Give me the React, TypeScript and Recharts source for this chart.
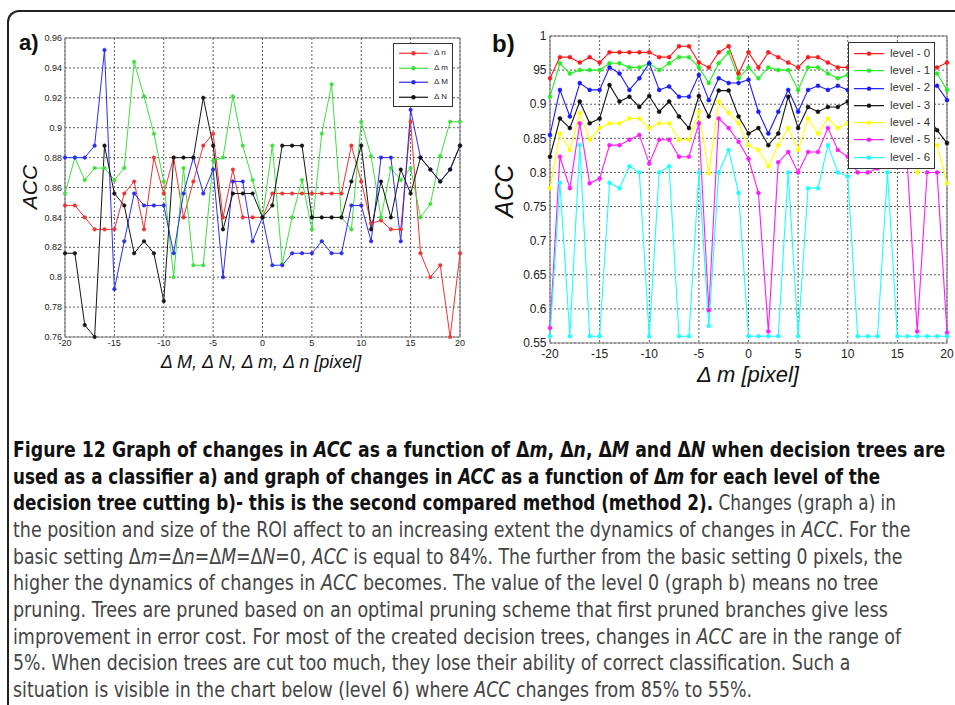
import React, { useLayoutEffect, useRef, useState } from "react";
import { Legend, Line, LineChart, CartesianGrid, ReferenceArea, XAxis, YAxis } from "recharts";

// shift in pixels, shared by both panels
const shifts = [
  -20, -19, -18, -17, -16, -15, -14, -13, -12, -11, -10, -9, -8, -7, -6, -5, -4, -3, -2, -1, 0,
  1, 2, 3, 4, 5, 6, 7, 8, 9, 10, 11, 12, 13, 14, 15, 16, 17, 18, 19, 20,
];

// panel a)
const accDn = [
  0.848, 0.848, 0.84, 0.832, 0.832, 0.832, 0.856, 0.864, 0.832, 0.88, 0.856, 0.88, 0.84, 0.864, 0.888, 0.896, 0.84, 0.872, 0.84, 0.84,
  0.84,
  0.856, 0.856, 0.856, 0.856, 0.856, 0.856, 0.856, 0.856, 0.888, 0.864, 0.836, 0.838, 0.832, 0.832, 0.904, 0.816, 0.8, 0.808, 0.76, 0.816,
];
const accDm = [
  0.856, 0.88, 0.865, 0.873, 0.873, 0.865, 0.873, 0.944, 0.921, 0.896, 0.864, 0.8, 0.873, 0.808, 0.808, 0.878, 0.88, 0.921, 0.888, 0.865,
  0.84,
  0.888, 0.809, 0.84, 0.865, 0.832, 0.896, 0.929, 0.84, 0.832, 0.904, 0.881, 0.84, 0.873, 0.865, 0.873, 0.84, 0.849, 0.881, 0.904, 0.904,
];
const accDM = [
  0.88, 0.88, 0.88, 0.888, 0.952, 0.792, 0.824, 0.856, 0.848, 0.848, 0.848, 0.816, 0.856, 0.88, 0.856, 0.872, 0.8, 0.864, 0.864, 0.824,
  0.84,
  0.808, 0.808, 0.816, 0.816, 0.816, 0.824, 0.816, 0.816, 0.848, 0.848, 0.824, 0.88, 0.88, 0.824, 0.912, 0.88, 0.872, 0.864, 0.872, 0.888,
];
const accDN = [
  0.816, 0.816, 0.768, 0.76, 0.888, 0.856, 0.848, 0.816, 0.824, 0.816, 0.784, 0.88, 0.88, 0.88, 0.92, 0.888, 0.832, 0.856, 0.856, 0.856,
  0.84,
  0.848, 0.888, 0.888, 0.888, 0.84, 0.84, 0.84, 0.84, 0.864, 0.888, 0.832, 0.864, 0.84, 0.872, 0.856, 0.88, 0.872, 0.864, 0.872, 0.888,
];

// panel b)
const level0 = [
  0.938, 0.969, 0.969, 0.961, 0.969, 0.961, 0.976, 0.976, 0.976, 0.976, 0.976, 0.969, 0.969, 0.985, 0.985, 0.961, 0.954, 0.976, 0.985, 0.945,
  0.976,
  0.954, 0.976, 0.969, 0.961, 0.954, 0.969, 0.969, 0.961, 0.954, 0.954, 0.961, 0.954, 0.969, 0.961, 0.954, 0.961, 0.969, 0.961, 0.954, 0.961,
];
const level1 = [
  0.911, 0.96, 0.945, 0.95, 0.95, 0.95, 0.96, 0.96, 0.954, 0.954, 0.96, 0.95, 0.96, 0.969, 0.969, 0.954, 0.931, 0.96, 0.976, 0.938,
  0.954,
  0.938, 0.954, 0.95, 0.95, 0.921, 0.954, 0.954, 0.945, 0.938, 0.943, 0.95, 0.938, 0.945, 0.95, 0.938, 0.945, 0.95, 0.938, 0.945, 0.921,
];
const level2 = [
  0.855, 0.921, 0.882, 0.931, 0.921, 0.921, 0.954, 0.945, 0.921, 0.938, 0.96, 0.921, 0.926, 0.911, 0.911, 0.943, 0.906, 0.938, 0.931, 0.931,
  0.936,
  0.889, 0.857, 0.889, 0.921, 0.889, 0.921, 0.927, 0.921, 0.927, 0.921, 0.911, 0.927, 0.921, 0.906, 0.927, 0.921, 0.911, 0.921, 0.927, 0.906,
];
const level3 = [
  0.823, 0.879, 0.865, 0.904, 0.872, 0.879, 0.928, 0.904, 0.911, 0.896, 0.912, 0.889, 0.904, 0.882, 0.865, 0.912, 0.882, 0.92, 0.92, 0.882,
  0.857,
  0.865, 0.84, 0.857, 0.911, 0.865, 0.896, 0.889, 0.896, 0.896, 0.904, 0.889, 0.896, 0.882, 0.904, 0.896, 0.889, 0.872, 0.882, 0.862, 0.843,
];
const level4 = [
  0.777, 0.857, 0.833, 0.887, 0.848, 0.865, 0.872, 0.872, 0.879, 0.879, 0.865, 0.872, 0.872, 0.848, 0.848, 0.889, 0.799, 0.904, 0.887, 0.872,
  0.84,
  0.833, 0.809, 0.84, 0.865, 0.833, 0.879, 0.857, 0.879, 0.865, 0.872, 0.857, 0.848, 0.865, 0.857, 0.84, 0.833, 0.8, 0.848, 0.84, 0.784,
];
const level5 = [
  0.572, 0.823, 0.777, 0.872, 0.784, 0.791, 0.84, 0.84, 0.848, 0.855, 0.813, 0.848, 0.848, 0.823, 0.823, 0.872, 0.598, 0.879, 0.865, 0.845,
  0.82,
  0.77, 0.567, 0.815, 0.83, 0.8, 0.83, 0.83, 0.865, 0.833, 0.823, 0.8, 0.8, 0.806, 0.83, 0.82, 0.813, 0.567, 0.8, 0.8, 0.565,
];
const level6 = [
  0.56, 0.785, 0.56, 0.84, 0.56, 0.56, 0.785, 0.777, 0.809, 0.8, 0.56, 0.8, 0.809, 0.56, 0.56, 0.8, 0.575, 0.8, 0.833, 0.77,
  0.56,
  0.56, 0.56, 0.56, 0.8, 0.56, 0.777, 0.777, 0.84, 0.8, 0.794, 0.56, 0.56, 0.56, 0.8, 0.56, 0.56, 0.56, 0.56, 0.56, 0.56,
];

const xTicks = [-20, -15, -10, -5, 0, 5, 10, 15, 20];
const yTicksA = [0.76, 0.78, 0.8, 0.82, 0.84, 0.86, 0.88, 0.9, 0.92, 0.94, 0.96];
const yTicksB = [0.55, 0.6, 0.65, 0.7, 0.75, 0.8, 0.85, 0.9, 0.95, 1];

const seriesA = [
  { key: "dn", name: "\u0394 n", color: "#f03333", values: accDn },
  { key: "dm", name: "\u0394 m", color: "#3ee03e", values: accDm },
  { key: "dM", name: "\u0394 M", color: "#2d2df0", values: accDM },
  { key: "dN", name: "\u0394 N", color: "#151515", values: accDN },
];
const seriesB = [
  { key: "l0", name: "level - 0", color: "#ff1a1a", values: level0 },
  { key: "l1", name: "level - 1", color: "#22ee22", values: level1 },
  { key: "l2", name: "level - 2", color: "#1a1aff", values: level2 },
  { key: "l3", name: "level - 3", color: "#111111", values: level3 },
  { key: "l4", name: "level - 4", color: "#ffff00", values: level4 },
  { key: "l5", name: "level - 5", color: "#ff1aff", values: level5 },
  { key: "l6", name: "level - 6", color: "#1affff", values: level6 },
];

const dataA = shifts.map((x, i) => {
  const row: Record<string, number> = { x };
  seriesA.forEach((s) => (row[s.key] = s.values[i]));
  return row;
});
const dataB = shifts.map((x, i) => {
  const row: Record<string, number> = { x };
  seriesB.forEach((s) => (row[s.key] = s.values[i]));
  return row;
});

type Seg = { t: string; b?: boolean; i?: boolean };
// caption, one entry per printed line, with the width it takes in the figure
const captionLines: { w: number; segs: Seg[] }[] = [
  {
    w: 932,
    segs: [
      { t: "Figure 12 Graph of changes in ", b: true },
      { t: "ACC", b: true, i: true },
      { t: " as a function of \u0394", b: true },
      { t: "m", b: true, i: true },
      { t: ", \u0394", b: true },
      { t: "n", b: true, i: true },
      { t: ", \u0394", b: true },
      { t: "M", b: true, i: true },
      { t: " and \u0394", b: true },
      { t: "N", b: true, i: true },
      { t: " when decision trees are", b: true },
    ],
  },
  {
    w: 867,
    segs: [
      { t: "used as a classifier a) and graph of changes in ", b: true },
      { t: "ACC", b: true, i: true },
      { t: " as a function of \u0394", b: true },
      { t: "m", b: true, i: true },
      { t: " for each level of the", b: true },
    ],
  },
  {
    w: 883,
    segs: [
      { t: "decision tree cutting b)- this is the second compared method (method 2).", b: true },
      { t: " Changes (graph a) in" },
    ],
  },
  {
    w: 897,
    segs: [
      { t: "the position and size of the ROI affect to an increasing extent the dynamics of changes in " },
      { t: "ACC", i: true },
      { t: ". For the" },
    ],
  },
  {
    w: 889,
    segs: [
      { t: "basic setting \u0394" },
      { t: "m", i: true },
      { t: "=\u0394" },
      { t: "n", i: true },
      { t: "=\u0394" },
      { t: "M", i: true },
      { t: "=\u0394" },
      { t: "N", i: true },
      { t: "=0, " },
      { t: "ACC", i: true },
      { t: " is equal to 84%. The further from the basic setting 0 pixels, the" },
    ],
  },
  {
    w: 865,
    segs: [
      { t: "higher the dynamics of changes in " },
      { t: "ACC", i: true },
      { t: " becomes. The value of the level 0 (graph b) means no tree" },
    ],
  },
  { w: 875, segs: [{ t: "pruning. Trees are pruned based on an optimal pruning scheme that first pruned branches give less" }] },
  {
    w: 888,
    segs: [
      { t: "improvement in error cost. For most of the created decision trees, changes in " },
      { t: "ACC", i: true },
      { t: " are in the range of" },
    ],
  },
  { w: 837, segs: [{ t: "5%. When decision trees are cut too much, they lose their ability of correct classification. Such a" }] },
  {
    w: 739,
    segs: [
      { t: "situation is visible in the chart below (level 6) where " },
      { t: "ACC", i: true },
      { t: " changes from 85% to 55%." },
    ],
  },
];

const fmtA = (v: number) => String(v);
const fmtB = (v: number) => (v === 0.95 ? "95" : String(v));

function MatlabLegend({ items, rowH, lineW, fontSize, textColor }: any) {
  return (
    <div style={{ background: "#fff", border: "1px solid #333", padding: "2px 4px 2px 4px" }}>
      {items.map((p: any) => (
        <div key={p.key} style={{ display: "flex", alignItems: "center", height: rowH }}>
          <svg width={lineW} height={rowH} style={{ display: "block" }}>
            <line x1={1} x2={lineW - 1} y1={rowH / 2} y2={rowH / 2} stroke={p.color} strokeWidth={1.2} />
            <circle cx={lineW / 2} cy={rowH / 2} r={2.2} fill={p.color} />
          </svg>
          <span style={{ marginLeft: 5, fontSize, color: textColor, whiteSpace: "nowrap", lineHeight: 1 }}>{p.name}</span>
        </div>
      ))}
    </div>
  );
}

// one caption line, squeezed horizontally to the width it has in the figure
function CaptionLine({ w, segs, top }: { w: number; segs: Seg[]; top: number }) {
  const ref = useRef<HTMLSpanElement>(null);
  const [k, setK] = useState(1);
  useLayoutEffect(() => {
    if (ref.current && ref.current.offsetWidth > 0) setK(w / ref.current.offsetWidth);
  }, [w]);
  return (
    <div style={{ position: "absolute", left: 13, top, height: 26.67, lineHeight: "26.67px", whiteSpace: "nowrap" }}>
      <span ref={ref} style={{ display: "inline-block", transform: `scaleX(${k})`, transformOrigin: "0 50%" }}>
        {segs.map((s, si) => (
          <span
            key={si}
            style={{
              fontWeight: s.b ? "bold" : "normal",
              fontStyle: s.i ? "italic" : "normal",
              color: s.b ? "#111" : "#444",
            }}
          >
            {s.t}
          </span>
        ))}
      </span>
    </div>
  );
}

const tickA = { fontSize: 9, fill: "#222", fontFamily: "Arial, 'Liberation Sans', sans-serif" };
const tickB = { fontSize: 12, fill: "#222", fontFamily: "Arial, 'Liberation Sans', sans-serif" };

export default function App() {
  return (
    <div
      style={{
        position: "absolute",
        left: 0,
        top: 0,
        width: 955,
        height: 705,
        background: "#fff",
        overflow: "hidden",
        fontFamily: "Arial, 'Liberation Sans', sans-serif",
      }}
    >
      {/* card frame */}
      <div
        style={{
          position: "absolute",
          left: 7,
          top: 10,
          width: 1000,
          height: 800,
          borderLeft: "2px solid #222",
          borderTop: "2px solid #222",
          borderTopLeftRadius: 12,
        }}
      />

      {/* panel a */}
      <div style={{ position: "absolute", left: 0, top: 0, width: 480, height: 400 }}>
        <LineChart width={480} height={400} data={dataA} margin={{ top: 38, right: 20, left: 0, bottom: 33 }}>
          <CartesianGrid strokeDasharray="2 2" stroke="#333" strokeWidth={0.8} />
          <XAxis
            type="number"
            dataKey="x"
            domain={[-20, 20]}
            ticks={xTicks}
            tick={tickA}
            tickLine={false}
            axisLine={false}
            tickSize={2}
            tickMargin={1}
            height={30}
          />
          <YAxis
            type="number"
            domain={[0.76, 0.96]}
            ticks={yTicksA}
            tickFormatter={fmtA}
            tick={tickA}
            tickLine={false}
            axisLine={false}
            tickSize={2}
            tickMargin={1}
            width={65}
          />
          <ReferenceArea x1={-20} x2={20} y1={0.76} y2={0.96} fill="none" stroke="#808080" strokeWidth={1.2} />
          {seriesA.map((s) => (
            <Line
              key={s.key}
              type="linear"
              dataKey={s.key}
              name={s.name}
              stroke={s.color}
              strokeWidth={1}
              dot={{ r: 1.8, fill: s.color, stroke: s.color, strokeWidth: 0.5 }}
              activeDot={false}
              isAnimationActive={false}
            />
          ))}
          <Legend
            layout="horizontal"
            verticalAlign="middle"
            align="center"
            wrapperStyle={{ left: 393, top: 43, width: "auto" }}
            content={() => <MatlabLegend items={seriesA} rowH={14.5} lineW={31} fontSize={8} textColor="#222" />}
          />
        </LineChart>
      </div>
      <div style={{ position: "absolute", left: 19, top: 30, fontSize: 22, fontWeight: "bold", color: "#111" }}>a)</div>
      <div
        style={{
          position: "absolute",
          left: 30,
          top: 187,
          transform: "translate(-50%, -50%) rotate(-90deg)",
          fontSize: 21,
          fontStyle: "italic",
          color: "#111",
          whiteSpace: "nowrap",
        }}
      >
        ACC
      </div>
      <div
        style={{
          position: "absolute",
          left: 261,
          top: 362,
          transform: "translate(-50%, -50%)",
          fontSize: 18,
          fontStyle: "italic",
          color: "#111",
          whiteSpace: "nowrap",
        }}
      >
        {"\u0394 M, \u0394 N, \u0394 m, \u0394 n [pixel]"}
      </div>

      {/* panel b */}
      <div style={{ position: "absolute", left: 480, top: 0, width: 475, height: 400 }}>
        <LineChart width={475} height={400} data={dataB} margin={{ top: 36, right: 8, left: 0, bottom: 27 }}>
          <CartesianGrid strokeDasharray="2 2" stroke="#333" strokeWidth={0.8} />
          <XAxis
            type="number"
            dataKey="x"
            domain={[-20, 20]}
            ticks={xTicks}
            tick={tickB}
            tickLine={false}
            axisLine={false}
            tickSize={2}
            tickMargin={4}
            height={30}
          />
          <YAxis
            type="number"
            domain={[0.55, 1]}
            ticks={yTicksB}
            tickFormatter={fmtB}
            tick={tickB}
            tickLine={false}
            axisLine={false}
            tickSize={2}
            tickMargin={1.5}
            width={70}
          />
          <ReferenceArea x1={-20} x2={20} y1={0.55} y2={1} fill="none" stroke="#808080" strokeWidth={1.2} />
          {seriesB.map((s) => (
            <Line
              key={s.key}
              type="linear"
              dataKey={s.key}
              name={s.name}
              stroke={s.color}
              strokeWidth={1.1}
              dot={{ r: 2, fill: s.color, stroke: s.color, strokeWidth: 0.5 }}
              activeDot={false}
              isAnimationActive={false}
            />
          ))}
          <Legend
            layout="horizontal"
            verticalAlign="middle"
            align="center"
            wrapperStyle={{ left: 368, top: 42, width: "auto" }}
            content={() => <MatlabLegend items={seriesB} rowH={17.3} lineW={32} fontSize={11.5} textColor="#333" />}
          />
        </LineChart>
      </div>
      <div style={{ position: "absolute", left: 492, top: 30, fontSize: 24, fontWeight: "bold", color: "#111" }}>b)</div>
      <div
        style={{
          position: "absolute",
          left: 504,
          top: 191,
          transform: "translate(-50%, -50%) rotate(-90deg)",
          fontSize: 25,
          fontStyle: "italic",
          color: "#111",
          whiteSpace: "nowrap",
        }}
      >
        ACC
      </div>
      <div
        style={{
          position: "absolute",
          left: 748,
          top: 375,
          transform: "translate(-50%, -50%)",
          fontSize: 22,
          fontStyle: "italic",
          color: "#111",
          whiteSpace: "nowrap",
        }}
      >
        {"\u0394 m [pixel]"}
      </div>

      {/* caption */}
      <div
        style={{
          position: "absolute",
          left: 0,
          top: 0,
          fontSize: 20.5,
          fontFamily: "'Liberation Sans Narrow', 'DejaVu Sans Condensed', 'Liberation Sans', sans-serif",
        }}
      >
        {captionLines.map((line, li) => (
          <CaptionLine key={li} w={line.w} segs={line.segs} top={437 + li * 26.67} />
        ))}
      </div>
    </div>
  );
}
